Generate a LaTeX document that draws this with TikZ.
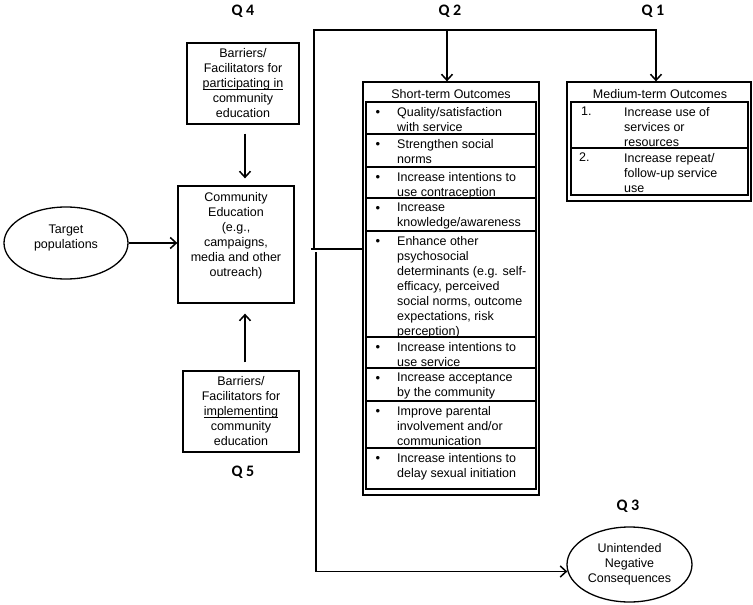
\documentclass[tikz,border=0pt]{standalone}
\usepackage{fontspec}
\setmainfont{Liberation Sans}
\newfontfamily\qfont{Carlito}
\usetikzlibrary{arrows.meta,shapes.geometric,calc}
\newcommand\myul[1]{\setbox0\hbox{#1}\rlap{\rule[-1.6pt]{\wd0}{0.6pt}}\box0}
\tikzset{
  boxframe/.style={draw, line width=1.3pt, rectangle, inner sep=0pt},
  txt/.style={inner sep=0pt, align=center, font=\fontsize{12.5}{15}\selectfont},
  cell/.style={anchor=north west, inner sep=0pt, align=left, font=\fontsize{12.5}{15}\selectfont},
  bul/.style={inner sep=0pt, font=\fontsize{13}{15}\selectfont},
  qlab/.style={inner sep=0pt, font=\qfont\bfseries\fontsize{16}{18}\selectfont},
  ell/.style={draw, ellipse, line width=1.3pt, inner sep=0pt, align=center, font=\fontsize{12.5}{15}\selectfont},
  conn/.style={line width=1.7pt, -{Straight Barb[length=6pt,width=11pt,line width=1.5pt]}},
  plain/.style={line width=1.7pt},
  rule/.style={line width=1.1pt}
}
\begin{document}
\begin{tikzpicture}[x=1pt,y=-1pt]
\useasboundingbox (0,0) rectangle (753,605);

% Q labels
\node[qlab] (q4) at (243,11) {Q 4};
\node[qlab] (q2) at (450,11) {Q 2};
\node[qlab] (q1) at (653,11) {Q 1};
\node[qlab] (q5) at (243,472) {Q 5};
\node[qlab] (q3) at (628,506) {Q 3};

% left column
\node[boxframe, txt, minimum width=112pt, minimum height=81pt] (b1) at (243,83.5)
  {Barriers/\\Facilitators for\\\myul{participating in}\\community\\education};
\node[boxframe, minimum width=116pt, minimum height=117pt] (ce) at (236,244.5) {};
\node[txt, anchor=north] (cet) at (236,192) {Community\\Education\\(e.g.,\\campaigns,\\media and other\\outreach)};
\node[boxframe, txt, minimum width=116pt, minimum height=81pt] (b2) at (241,411.5)
  {Barriers/\\Facilitators for\\\myul{implementing}\\community\\education};
\node[ell, minimum width=124pt, minimum height=72pt] (tgt) at (66,243) {Target\\populations\\[-2pt]};

\coordinate (u1) at ($(b1.south)+(2,0)$);
\coordinate (u2) at (u1 |- ce.north);
\coordinate (d1) at ($(b2.north)+(4,0)$);
\coordinate (d2) at (d1 |- ce.south);
\draw[conn, shorten <=9pt, shorten >=7pt] (u1) -- (u2);
\draw[conn, shorten <=8pt, shorten >=10pt] (d1) -- (d2);
\draw[conn] (tgt.east) -- (tgt.east -| ce.west);

% short-term outcomes
\node[boxframe, minimum width=176pt, minimum height=413pt] (st) at (451,288.5) {};
\node[txt] (stt) at (451,94) {Short-term Outcomes};
\draw[rule] (366,102) rectangle (536,489);
\foreach \yy in {134,167,198,231,337,368,401,448} {\draw[rule] (366,\yy) -- (536,\yy);}
\foreach \yy [count=\i] in {102,134,167,198,231,337,368,401,448} {\node[bul] (sb\i) at (378,\yy+11) {•};}
\node[cell] (s1) at (397,107) {Quality/satisfaction\\with service};
\node[cell] (s2) at (397,139) {Strengthen social\\norms};
\node[cell] (s3) at (397,172) {Increase intentions to\\use contraception};
\node[cell] (s4) at (397,203) {Increase\\knowledge/awareness};
\node[cell] (s5) at (397,236) {Enhance other\\psychosocial\\determinants (e.g. self-\\efficacy, perceived\\social norms, outcome\\expectations, risk\\perception)};
\node[cell] (s6) at (397,342) {Increase intentions to\\use service};
\node[cell] (s7) at (397,373) {Increase acceptance\\by the community};
\node[cell] (s8) at (397,406) {Improve parental\\involvement and/or\\communication};
\node[cell] (s9) at (397,453) {Increase intentions to\\delay sexual initiation};

% medium-term outcomes
\node[boxframe, minimum width=184pt, minimum height=119pt] (mt) at (659,141.5) {};
\node[txt] (mtt) at (660,94) {Medium-term Outcomes};
\draw[rule] (571,102) rectangle (748,195);
\draw[rule] (571,148) -- (748,148);
\node[cell] (mn1) at (581,107) {1.};
\node[cell] (m1) at (624,107) {Increase use of\\services or\\resources};
\node[cell] (mn2) at (579,153) {2.};
\node[cell] (m2) at (624,153) {Increase repeat/\\follow-up service\\use};

% unintended
\node[ell, minimum width=125pt, minimum height=75pt] (une) at (629.5,564.5) {Unintended\\Negative\\Consequences};

% connectors on the right
\coordinate (jt) at (314,249);
\coordinate (js) at (311,249);
\coordinate (jb) at (316,252);
\coordinate (a2) at (447,30);
\coordinate (a1) at (656,30);
\coordinate (ue) at ($(une.west)+(1,7)$);
\draw[plain] (js) -- (js -| st.west);
\draw[conn] (jt) |- (a1) -- (a1 |- mt.north);
\draw[conn] (a2) -- (a2 |- st.north);
\draw[conn] (jb) |- (ue);
\end{tikzpicture}
\end{document}
